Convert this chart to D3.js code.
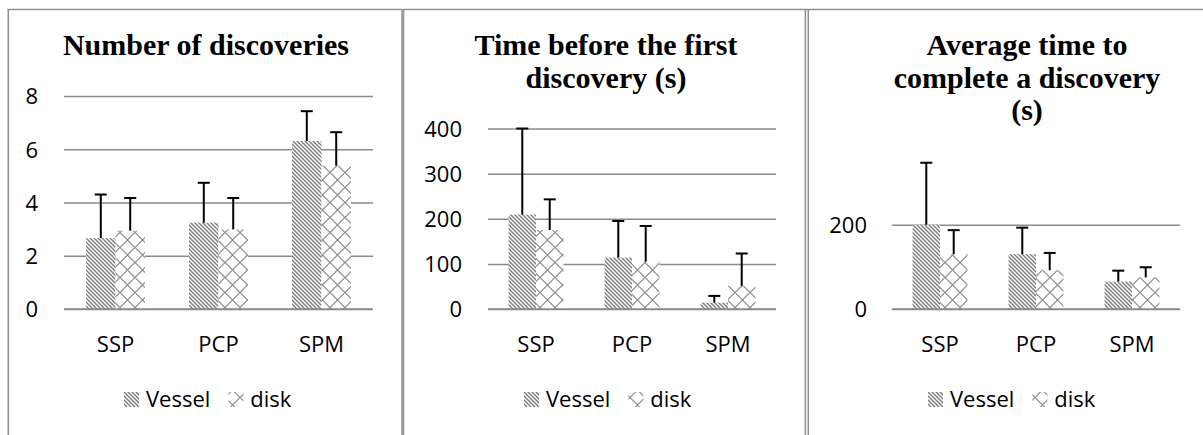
<!DOCTYPE html>
<html>
<head>
<meta charset="utf-8">
<script src="https://cdn.jsdelivr.net/npm/d3@7"></script>
<style>
  html, body { margin: 0; padding: 0; background: #fff; }
  svg { display: block; }
</style>
</head>
<body>
<svg id="chart" width="1203" height="435"></svg>
<script>
// ---------- data ----------
const categories = ["SSP", "PCP", "SPM"];
const seriesNames = ["Vessel", "disk"];

const discoveriesVessel    = [2.66, 3.24, 6.31];
const discoveriesVesselErr = [1.64, 1.50, 1.12];
const discoveriesDisk      = [2.94, 2.99, 5.38];
const discoveriesDiskErr   = [1.23, 1.18, 1.26];
const discoveriesTicks     = [0, 2, 4, 6, 8];

const firstVessel    = [209, 114, 14];
const firstVesselErr = [191, 81, 15];
const firstDisk      = [175, 105, 51];
const firstDiskErr   = [68, 79, 72];
const firstTicks     = [0, 100, 200, 300, 400];

const avgVessel    = [200, 130, 65];
const avgVesselErr = [147, 63, 26];
const avgDisk      = [130, 92, 75];
const avgDiskErr   = [57, 41, 24];
const avgTicks     = [0, 200];

const titles = [
  ["Number of discoveries"],
  ["Time before the first", "discovery (s)"],
  ["Average time to", "complete a discovery", "(s)"]
];

// ---------- layout ----------
const panels = [
  { x0: 64,  x1: 373,  yMax: 8,   yTopPx: 96,    ticks: discoveriesTicks, tickX: 38,
    vessel: discoveriesVessel, vesselErr: discoveriesVesselErr, disk: discoveriesDisk, diskErr: discoveriesDiskErr,
    titleX: 206, legendX: 124 },
  { x0: 488, x1: 776,  yMax: 400, yTopPx: 128.5, ticks: firstTicks, tickX: 462,
    vessel: firstVessel, vesselErr: firstVesselErr, disk: firstDisk, diskErr: firstDiskErr,
    titleX: 606, legendX: 524 },
  { x0: 892, x1: 1180, yMax: 400, yTopPx: 140.4, ticks: avgTicks, tickX: 867,
    vessel: avgVessel, vesselErr: avgVesselErr, disk: avgDisk, diskErr: avgDiskErr,
    titleX: 1027, legendX: 928 }
];
const baseY = 309;
const gridColor = "#8a8a8a";
const sansFont = "'Open Sans', 'Noto Sans', sans-serif";
const serifFont = "'Liberation Serif', 'DejaVu Serif', serif";

const svg = d3.select("#chart");

// ---------- patterns ----------
const defs = svg.append("defs");
const stripe = defs.append("pattern")
  .attr("id", "stripes").attr("patternUnits", "userSpaceOnUse")
  .attr("width", 4).attr("height", 4);
stripe.append("rect").attr("width", 4).attr("height", 4).attr("fill", "#fff");
stripe.append("path")
  .attr("d", "M-1,-1 L5,5 M-1,3 L1,5 M3,-1 L5,1")
  .attr("stroke", "#808080").attr("stroke-width", 1.5).attr("fill", "none");

const diam = defs.append("pattern")
  .attr("id", "diamonds").attr("patternUnits", "userSpaceOnUse")
  .attr("width", 15).attr("height", 15);
diam.append("rect").attr("width", 15).attr("height", 15).attr("fill", "#fff");
diam.append("path")
  .attr("d", "M0,7.5 L7.5,0 L15,7.5 L7.5,15 Z")
  .attr("stroke", "#8c8c8c").attr("stroke-width", 1.1).attr("fill", "none");

const fills = ["url(#stripes)", "url(#diamonds)"];

// ---------- frame ----------
const frame = svg.append("g").attr("stroke", "#8f8f8f").attr("fill", "none");
frame.append("line").attr("x1", 7.5).attr("x2", 1203).attr("y1", 9.5).attr("y2", 9.5).attr("stroke-width", 1.5);
frame.append("line").attr("x1", 8.3).attr("x2", 8.3).attr("y1", 9).attr("y2", 435).attr("stroke-width", 1.6);
frame.append("line").attr("x1", 402.8).attr("x2", 402.8).attr("y1", 9).attr("y2", 435).attr("stroke-width", 3).attr("stroke", "#999");
frame.append("line").attr("x1", 805.4).attr("x2", 805.4).attr("y1", 9).attr("y2", 435).attr("stroke-width", 1.5);
frame.append("line").attr("x1", 808.3).attr("x2", 808.3).attr("y1", 9).attr("y2", 435).attr("stroke-width", 1.5);

// ---------- panels ----------
panels.forEach((p, pi) => {
  const g = svg.append("g");

  const x = d3.scaleBand().domain(categories).range([p.x0, p.x1]).paddingInner(0).paddingOuter(0);
  const y = d3.scaleLinear().domain([0, p.yMax]).range([baseY, p.yTopPx]);
  const barW = x.bandwidth() / 3.5;
  const sub = d3.scaleBand().domain(seriesNames)
    .range([0, barW * 2]);

  // title
  const t = g.append("text")
    .attr("x", p.titleX)
    .attr("text-anchor", "middle")
    .attr("font-family", serifFont)
    .attr("font-weight", "bold")
    .attr("font-size", 30)
    .attr("fill", "#000");
  titles[pi].forEach((line, li) => {
    t.append("tspan").attr("x", p.titleX).attr("y", 55 + li * 32.5).text(line);
  });

  // gridlines
  const yAxis = d3.axisLeft(y).tickValues(p.ticks).tickSize(-(p.x1 - p.x0)).tickFormat(d3.format("d"));
  const ga = g.append("g").attr("transform", `translate(${p.x0},0)`).call(yAxis);
  ga.select(".domain").remove();
  ga.selectAll(".tick line").attr("stroke", gridColor).attr("stroke-width", 1.5);
  ga.selectAll(".tick text")
    .attr("x", p.tickX - p.x0)
    .attr("dy", "0.36em")
    .attr("font-family", sansFont)
    .attr("font-size", 22)
    .attr("fill", "#000")
    .attr("text-anchor", "end");

  // bars
  const rows = [];
  categories.forEach((c, i) => {
    rows.push({ cat: c, s: "Vessel", si: 0, v: p.vessel[i], e: p.vesselErr[i] });
    rows.push({ cat: c, s: "disk", si: 1, v: p.disk[i], e: p.diskErr[i] });
  });
  const offset = (x.bandwidth() - barW * 2) / 2;
  g.append("g").selectAll("rect").data(rows).join("rect")
    .attr("x", d => x(d.cat) + offset + sub(d.s))
    .attr("y", d => y(d.v))
    .attr("width", sub.bandwidth())
    .attr("height", d => y(0) - y(d.v))
    .attr("fill", d => fills[d.si]);

  // redraw baseline on top
  g.append("line").attr("x1", p.x0).attr("x2", p.x1).attr("y1", y(0)).attr("y2", y(0))
    .attr("stroke", gridColor).attr("stroke-width", 1.5);

  // error bars
  const eg = g.append("g").attr("stroke", "#000").attr("stroke-width", 2);
  rows.forEach(d => {
    const cx = x(d.cat) + offset + sub(d.s) + sub.bandwidth() / 2;
    eg.append("line").attr("x1", cx).attr("x2", cx).attr("y1", y(d.v)).attr("y2", y(d.v + d.e));
    eg.append("line").attr("x1", cx - 6).attr("x2", cx + 6).attr("y1", y(d.v + d.e)).attr("y2", y(d.v + d.e));
  });

  // category labels
  g.append("g").selectAll("text").data(categories).join("text")
    .attr("x", d => x(d) + x.bandwidth() / 2)
    .attr("y", 352)
    .attr("text-anchor", "middle")
    .attr("font-family", sansFont)
    .attr("font-size", 22)
    .attr("fill", "#000")
    .text(d => d);

  // legend
  const lg = g.append("g");
  let lx = p.legendX;
  seriesNames.forEach((s, si) => {
    lg.append("rect").attr("x", lx).attr("y", 392).attr("width", 15).attr("height", 15)
      .attr("fill", fills[si]);
    const tx = lg.append("text").attr("x", lx + 22).attr("y", 407)
      .attr("font-family", sansFont).attr("font-size", 22).attr("fill", "#000").text(s);
    const w = tx.node().getComputedTextLength();
    lx = lx + 22 + w + 18;
  });
});
</script>
</body>
</html>
